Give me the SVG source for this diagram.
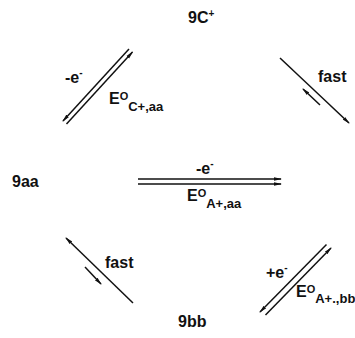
<svg xmlns="http://www.w3.org/2000/svg" width="355" height="338" viewBox="0 0 355 338">
  <style>
    .lbl { font-family: "Liberation Sans", Arial, sans-serif; font-weight: bold; font-size: 16px; fill: #111; }
    .sup { font-size: 10px; }
    .deg { font-size: 11px; }
    .sub { font-size: 13px; }
    .conn line { stroke: #111; stroke-width: 1.5; fill: none; marker-end: url(#head); }
  </style>
  <defs>
    <marker id="head" markerUnits="userSpaceOnUse" viewBox="0 -3 8 6" refX="7" refY="0" markerWidth="8" markerHeight="6" orient="auto">
      <path d="M0,-1.8 L8,0 L0,1.8 z" fill="#111"/>
    </marker>
  </defs>

  <rect width="355" height="338" fill="#fff"/>

  <!-- species -->
  <g id="n-9Cplus">
    <text class="lbl" x="188" y="23">9C<tspan class="sup" dy="-6">+</tspan></text>
  </g>
  <g id="n-9aa">
    <text class="lbl" x="12" y="187">9aa</text>
  </g>
  <g id="n-9bb">
    <text class="lbl" x="178" y="327">9bb</text>
  </g>

  <!-- reaction arrows -->
  <g id="connectors" class="conn">
    <!-- 9C+ / 9aa electron transfer -->
    <line x1="129" y1="49" x2="63" y2="121"/>
    <line x1="66.5" y1="124" x2="132.5" y2="52"/>
    <!-- 9C+ to 9bb, fast -->
    <line x1="280" y1="58" x2="349" y2="123"/>
    <line x1="320" y1="105" x2="303" y2="89"/>
    <!-- 9aa oxidation -->
    <line x1="138" y1="179" x2="281" y2="179"/>
    <line x1="138" y1="184" x2="281" y2="184"/>
    <!-- 9bb to 9aa, fast -->
    <line x1="133" y1="303" x2="66" y2="238"/>
    <line x1="85" y1="267" x2="101" y2="284"/>
    <!-- 9bb reduction -->
    <line x1="326.5" y1="244.5" x2="260" y2="312"/>
    <line x1="265.5" y1="315" x2="331" y2="248"/>
  </g>

  <!-- arrow labels -->
  <g id="labels">
    <text class="lbl" x="65" y="83">-e<tspan class="sup" dy="-7">-</tspan></text>
    <text class="lbl" x="109" y="104">E<tspan class="deg" dy="-4">O</tspan><tspan class="sub" dy="11">C+,aa</tspan></text>

    <text class="lbl" x="318" y="82">fast</text>

    <text class="lbl" x="196" y="174">-e<tspan class="sup" dy="-7">-</tspan></text>
    <text class="lbl" x="187" y="201">E<tspan class="deg" dy="-4">O</tspan><tspan class="sub" dy="11">A+,aa</tspan></text>

    <text class="lbl" x="105" y="268">fast</text>

    <text class="lbl" x="266" y="278">+e<tspan class="sup" dy="-7">-</tspan></text>
    <text class="lbl" x="296" y="297">E<tspan class="deg" dy="-4">O</tspan><tspan class="sub" dy="10">A+.,bb</tspan></text>
  </g>
</svg>
